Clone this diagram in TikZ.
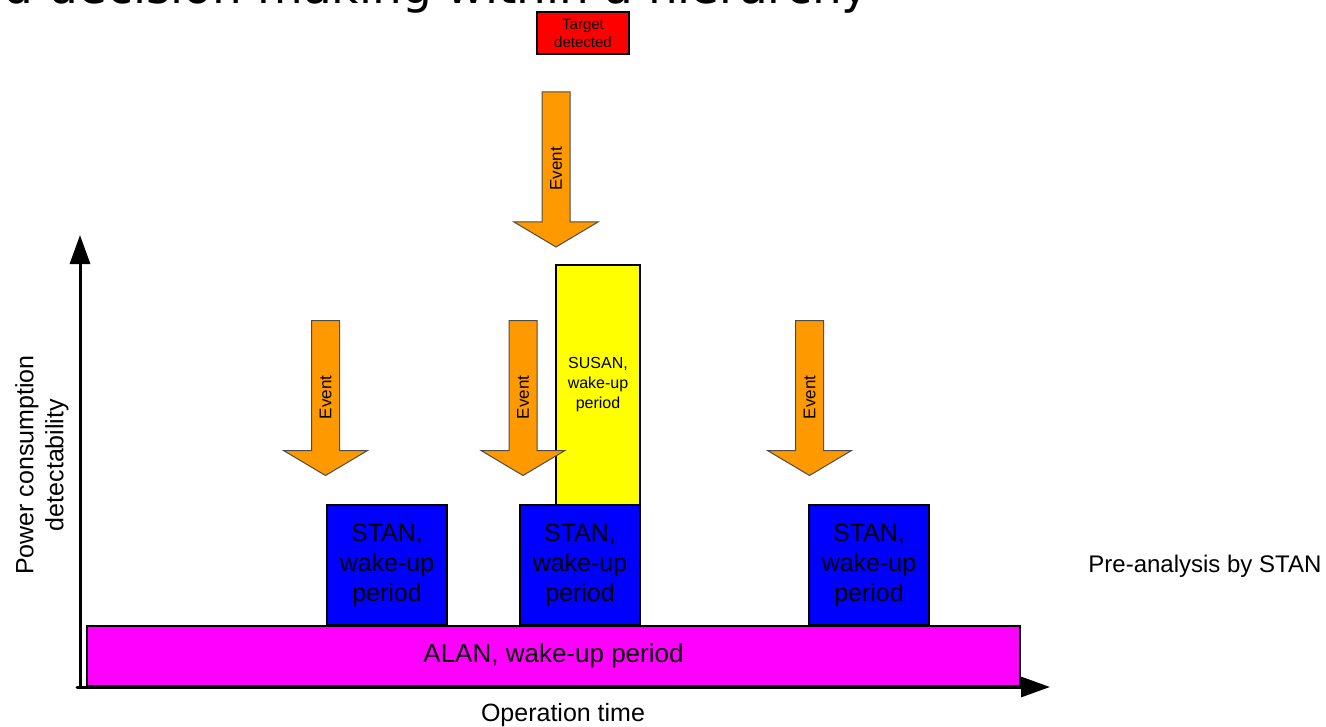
\documentclass[tikz,border=0pt]{standalone}
\usepackage{fontspec}
\setmainfont{Liberation Sans}
\newfontfamily\titlefont{DejaVu Sans}
\usetikzlibrary{arrows.meta}

\definecolor{alanmag}{HTML}{FF00FF}
\definecolor{stanblue}{HTML}{0000FF}
\definecolor{susanyel}{HTML}{FFFF00}
\definecolor{targetred}{HTML}{FF0000}
\definecolor{eventorange}{HTML}{FF9900}

\tikzset{
  box/.style={draw=black, line width=0.6pt, inner sep=0pt, align=center, text=black},
  alanbox/.style={box, fill=alanmag, minimum width=466.5pt, minimum height=30pt,
    font=\fontsize{13pt}{15pt}\selectfont},
  stanbox/.style={box, fill=stanblue, minimum width=60pt, minimum height=60pt,
    font=\fontsize{12.5pt}{15pt}\selectfont},
  susanbox/.style={box, fill=susanyel, minimum width=42pt, minimum height=120pt,
    font=\fontsize{8pt}{10pt}\selectfont},
  targetbox/.style={box, fill=targetred, minimum width=46pt, minimum height=21pt,
    font=\fontsize{7.5pt}{9pt}\selectfont},
  axisline/.style={line width=1.5pt, line cap=round, -{Triangle[length=14.5pt,width=10pt]}},
  plainlabel/.style={inner sep=0pt, align=center, font=\fontsize{12.5pt}{15pt}\selectfont},
  eventshape/.style={fill=eventorange, draw=black!70, line width=0.5pt, line join=miter},
  eventlabel/.style={rotate=90, inner sep=0pt, font=\fontsize{8.5pt}{10pt}\selectfont},
  % downward block arrow with a rotated "Event" label; placed by its shaft top
  pics/eventarrow/.style={code={
    \draw[eventshape] (-14,0) -- (14,0) -- (14,130) -- (42,130) -- (0,155)
      -- (-42,130) -- (-14,130) -- cycle;
    \node[eventlabel] (-label) at (0,77) {Event};
  }},
}

\begin{document}
\begin{tikzpicture}[x=0.5pt, y=-0.5pt]
  \useasboundingbox (0,0) rectangle (1326,727);

  % heading (partly outside the page)
  \node[anchor=base east, inner sep=0pt, font=\titlefont\fontsize{23.5pt}{28pt}\selectfont]
    (title) at (870,4) {d decision making within a hierarchy};

  % wake-up periods
  \node[alanbox] (alan) at (553.5,656) {ALAN, wake-up period};
  \node[stanbox] (stan1) at (387,565) {STAN,\\wake-up\\period};
  \node[stanbox] (stan2) at (580,565) {STAN,\\wake-up\\period};
  \node[stanbox] (stan3) at (869,565) {STAN,\\wake-up\\period};
  \node[susanbox] (susan) at (598,385) {SUSAN,\\wake-up\\period};
  \node[targetbox] (target) at (583,33) {Target\\detected};

  % events
  \pic (ev1) at (325.5,320.5) {eventarrow};
  \pic (ev2) at (523,320.5) {eventarrow};
  \pic (ev3) at (809.5,320.5) {eventarrow};
  \pic (ev4) at (556,92) {eventarrow};

  % axes
  \coordinate (origin) at (80,687);
  \coordinate (ytip) at (80,235);
  \coordinate (xstart) at (77,687);
  \coordinate (xtip) at (1050,687);
  \draw[axisline] (origin) -- (ytip);
  \draw[axisline] (xstart) -- (xtip);

  % axis and side labels
  \node[plainlabel, rotate=90] (ylabel) at (42,465) {Power consumption\\detectability};
  \node[plainlabel] (xlabel) at (563,715) {Operation time};
  \node[plainlabel, anchor=west, font=\fontsize{12pt}{14pt}\selectfont]
    (prelabel) at (1088,566) {Pre-analysis by STAN};
\end{tikzpicture}
\end{document}
